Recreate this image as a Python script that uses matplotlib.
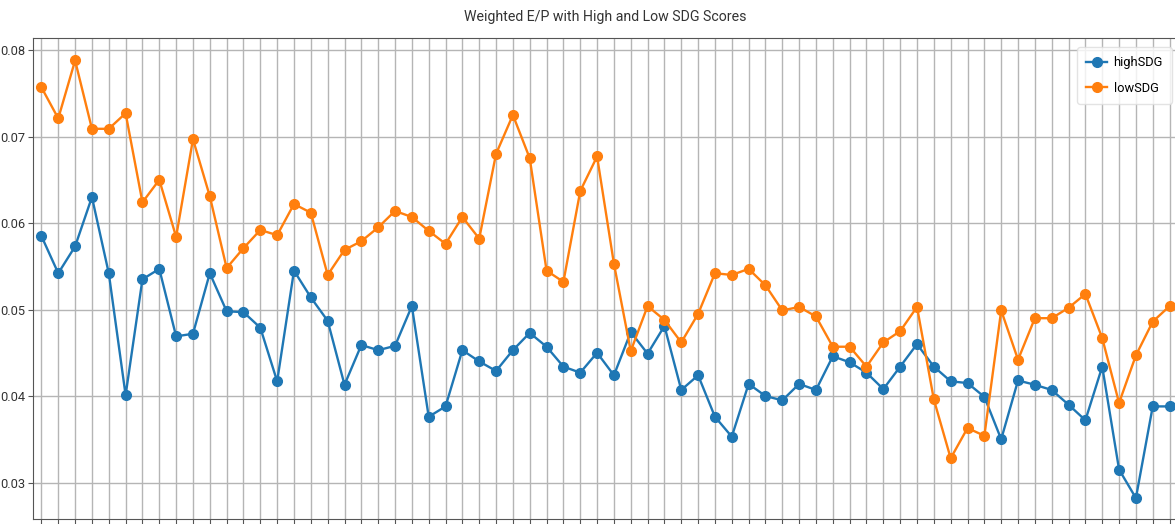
import matplotlib
matplotlib.use("Agg")
import matplotlib.pyplot as plt
import numpy as np

title = "Weighted E/P with High and Low SDG Scores"
series_names = ["highSDG", "lowSDG"]

high_sdg = [0.0585, 0.0542, 0.0573, 0.0630, 0.0542, 0.0401, 0.0535, 0.0547, 0.0469, 0.0472,
            0.0542, 0.0498, 0.0497, 0.0479, 0.0417, 0.0545, 0.0514, 0.0487, 0.0413, 0.0459,
            0.0453, 0.0458, 0.0504, 0.0376, 0.0388, 0.0453, 0.0440, 0.0429, 0.0453, 0.0473,
            0.0457, 0.0434, 0.0427, 0.0450, 0.0424, 0.0474, 0.0449, 0.0481, 0.0407, 0.0424,
            0.0376, 0.0353, 0.0414, 0.0400, 0.0395, 0.0414, 0.0407, 0.0446, 0.0439, 0.0427,
            0.0408, 0.0434, 0.0460, 0.0434, 0.0417, 0.0415, 0.0399, 0.0350, 0.0418, 0.0413,
            0.0407, 0.0390, 0.0372, 0.0434, 0.0315, 0.0282, 0.0388, 0.0388]

low_sdg = [0.0757, 0.0721, 0.0788, 0.0709, 0.0709, 0.0727, 0.0624, 0.0650, 0.0584, 0.0697,
           0.0631, 0.0548, 0.0571, 0.0592, 0.0586, 0.0622, 0.0612, 0.0540, 0.0569, 0.0579,
           0.0595, 0.0614, 0.0607, 0.0591, 0.0576, 0.0607, 0.0582, 0.0680, 0.0725, 0.0675,
           0.0545, 0.0532, 0.0637, 0.0677, 0.0553, 0.0452, 0.0504, 0.0488, 0.0462, 0.0495,
           0.0542, 0.0540, 0.0547, 0.0528, 0.0499, 0.0503, 0.0492, 0.0457, 0.0457, 0.0434,
           0.0462, 0.0475, 0.0503, 0.0396, 0.0328, 0.0363, 0.0354, 0.0499, 0.0442, 0.0490,
           0.0490, 0.0502, 0.0518, 0.0467, 0.0392, 0.0447, 0.0486, 0.0504]

y_ticks = [0.03, 0.04, 0.05, 0.06, 0.07, 0.08]

x = np.arange(len(high_sdg))

FONT = ["Roboto", "DejaVu Sans"]

fig = plt.figure(figsize=(11.75, 5.24), dpi=100)
ax = fig.add_axes([33/1175, 1 - 519/524, (1178 - 33)/1175, (519 - 38)/524])

ax.plot(x, high_sdg, marker="o", markersize=7, linewidth=1.7, color="#1f77b4", label=series_names[0])
ax.plot(x, low_sdg, marker="o", markersize=7, linewidth=1.7, color="#ff7f0e", label=series_names[1])

ax.set_xlim(-0.5, len(x) - 0.5)
ax.set_ylim(0.02578, 0.0814)
ax.set_xticks(x)
ax.set_xticklabels([])
ax.set_yticks(y_ticks)
ax.set_yticklabels([f"{v:.2f}" for v in y_ticks], family=FONT, fontsize=9.3, color="#333333")
ax.tick_params(axis="y", length=3.5, pad=2.0, color="#555555")
ax.tick_params(axis="x", length=3.5, color="#555555")
ax.grid(True, color="#b5b5b5", linewidth=1.0)
ax.set_axisbelow(True)
for s in ax.spines.values():
    s.set_color("#555555")

ax.set_title(title, family=FONT, fontsize=10.2, color="#333333", pad=12)
leg = ax.legend(loc="upper right", bbox_to_anchor=((1172 - 33) / 1145, (519 - 47) / 481),
                borderaxespad=0.0,
                prop={"family": FONT, "size": 9.3}, labelspacing=1.0, borderpad=0.7,
                handlelength=1.6, handletextpad=0.5)
leg.get_frame().set_edgecolor("#dddddd")

fig.savefig("out.png", dpi=100)
